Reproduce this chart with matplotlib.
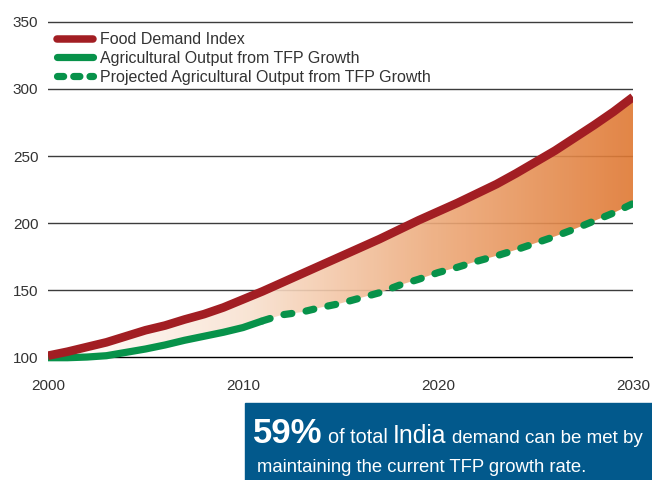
import matplotlib
matplotlib.use("Agg")
import matplotlib.pyplot as plt
import numpy as np
from matplotlib.colors import LinearSegmentedColormap
from matplotlib.lines import Line2D
from matplotlib.patches import Rectangle

plt.rcParams["font.family"] = ["Liberation Sans", "DejaVu Sans"]

# Index values (2000 = 100)
years = np.arange(2000, 2031)
food_demand = [
    101, 104, 107.5, 111, 115.5, 120, 123.5, 128, 132, 137,
    143, 149, 155.5, 162, 168.5, 175, 181.5, 188, 195, 202,
    208.5, 215, 222, 229, 237, 245.5, 254, 263.5, 273, 283, 294,
]
output_years = np.arange(2000, 2012)
ag_output = [99.5, 99.5, 100, 101, 103.5, 106, 109, 112.5, 115.5, 118.5, 122, 127]
projected_years = np.arange(2011, 2031)
projected_output = [
    127, 131.5, 133.5, 137, 140, 144, 148, 153.5, 158, 163,
    167, 171.5, 175.5, 180, 185, 190, 195.5, 201.5, 207.5, 214.5,
]

y_ticks = [100, 150, 200, 250, 300, 350]
x_ticks = [2000, 2010, 2020, 2030]
legend_labels = [
    "Food Demand Index",
    "Agricultural Output from TFP Growth",
    "Projected Agricultural Output from TFP Growth",
]

RED = "#A21E23"
GREEN = "#07924A"
BLUE = "#02598C"
TEXT = "#333333"

fig = plt.figure(figsize=(6.52, 4.80), dpi=100)
ax = fig.add_axes([48 / 652, 1 - 362.4 / 480, 585 / 652, (362.4 - 19.3) / 480])

ax.set_xlim(2000, 2030)
ax.set_ylim(96, 352)

# horizontal grid
for v in y_ticks:
    ax.axhline(v, color="#000000" if v == 100 else "#3c3c3c", lw=1.0, zorder=1)

# gradient band between demand and output
supply = np.concatenate([ag_output, projected_output[1:]])
band = ax.fill_between(years, supply, food_demand, color="none", lw=0)
cmap = LinearSegmentedColormap.from_list(
    "band", ["#FFFFFF", "#F9E3D2", "#EDA979", "#DF7832"]
)
grad = ax.imshow(
    np.linspace(0, 1, 256).reshape(1, -1),
    cmap=cmap,
    extent=[2000, 2030, 96, 352],
    aspect="auto",
    origin="lower",
    alpha=0.9,
    zorder=2,
)
grad.set_clip_path(band.get_paths()[0], transform=ax.transData)

ax.plot(years, food_demand, color=RED, lw=6.2, solid_capstyle="butt",
        solid_joinstyle="round", zorder=4)
ax.plot(output_years, ag_output, color=GREEN, lw=5.2, solid_capstyle="butt",
        solid_joinstyle="round", zorder=3)
ax.plot(projected_years, projected_output, color=GREEN, lw=5.2,
        linestyle=(0, (1.1, 2.0)), dash_capstyle="round", zorder=3)

ax.set_xlim(2000, 2030)
ax.set_ylim(96, 352)
ax.set_yticks(y_ticks)
ax.set_xticks(x_ticks)
ax.tick_params(length=0, labelsize=11, colors=TEXT)
ax.tick_params(axis="y", pad=7)
ax.tick_params(axis="x", pad=12)
for s in ax.spines.values():
    s.set_visible(False)

handles = [
    Line2D([], [], color=RED, lw=5.4, solid_capstyle="round"),
    Line2D([], [], color=GREEN, lw=5.2, solid_capstyle="round"),
    Line2D([], [], color=GREEN, lw=5.2, linestyle=(0, (0.85, 1.4)),
           dash_capstyle="round"),
]
ax.legend(
    handles, legend_labels,
    loc="upper left", bbox_to_anchor=(0.015, 0.962),
    frameon=False, fontsize=11.5, handlelength=2.25, handletextpad=0.45,
    labelspacing=0.23, borderpad=0, borderaxespad=0,
    labelcolor=TEXT,
)

# callout box
fig.patches.append(Rectangle((245 / 652, 0), 407 / 652, 77 / 480,
                             transform=fig.transFigure, color=BLUE, zorder=0))

parts = [
    ("59%", 25, "bold", 0),
    ("of total", 14.3, "normal", 5),
    ("India", 17.8, "normal", 5),
    ("demand can be met by", 13.5, "normal", 6),
]
renderer = fig.canvas.get_renderer()
x = 253
for txt, size, weight, gap in parts:
    x += gap
    t = fig.text(x / 652, 37 / 480, txt, color="white", fontsize=size,
                 fontweight=weight, ha="left", va="baseline")
    x += t.get_window_extent(renderer).width
fig.text(257 / 652, 8 / 480, "maintaining the current TFP growth rate.",
         color="white", fontsize=13.3, ha="left", va="baseline")

fig.savefig("out.png", dpi=100)
